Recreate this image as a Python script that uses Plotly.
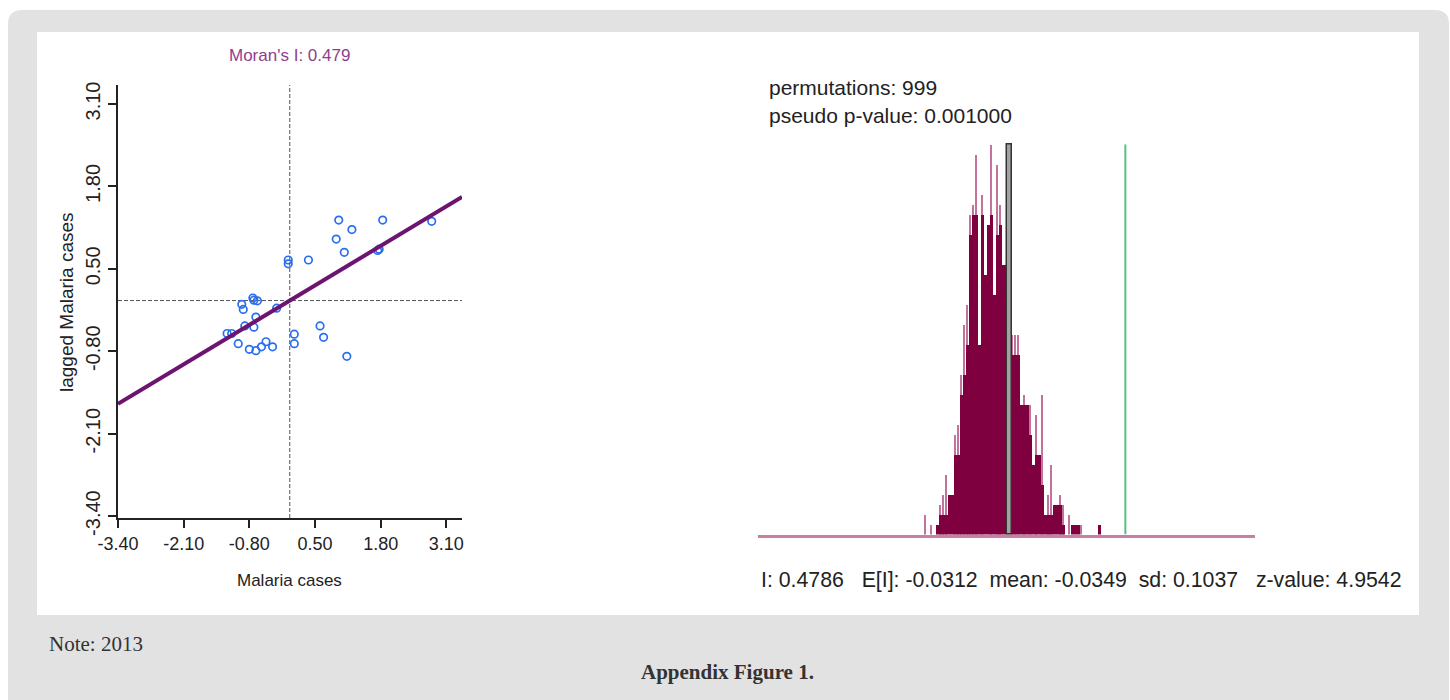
import plotly.graph_objects as go

W, H = 1450, 700

# ---------------- Moran scatter data (standardized) ----------------
malaria_z = [0.97, 1.84, 2.81, 1.23, 0.92, 1.08, 1.74, 1.77, -0.03, -0.03, 0.37,
             -0.95, -0.92, -0.73, -0.64, -0.71, -0.26, -0.67, -0.89, -0.71,
             -1.24, -1.15, -1.02, -0.80, -0.67, -0.56, -0.47, -0.34,
             0.09, 0.09, 0.60, 0.67, 1.13]
lagged_z = [1.27, 1.27, 1.25, 1.12, 0.97, 0.76, 0.79, 0.81, 0.64, 0.58, 0.64,
            -0.06, -0.14, 0.04, -0.005, 0.006, -0.12, -0.26, -0.40, -0.42,
            -0.52, -0.52, -0.68, -0.77, -0.79, -0.73, -0.65, -0.73,
            -0.53, -0.68, -0.40, -0.58, -0.88]
moran_i = 0.479
axis_ticks = [-3.40, -2.10, -0.80, 0.50, 1.80, 3.10]
x_range = [-3.40, 3.41]
y_range = [-3.43, 3.40]

# ---------------- permutation test ----------------
permutations = 999
pseudo_p = 0.001000
obs_I = 0.4786
expected_I = -0.0312
perm_mean = -0.0349
perm_sd = 0.1037
z_value = 4.9542
hist_start = -0.4076
hist_bin_width = 0.0132
hist_counts = [0, 0, 0, 0, 1, 2, 2, 2, 4, 4,
               8, 8, 14, 16, 19, 30, 32, 32, 19, 32,
               26, 31, 32, 24, 30, 31, 27, 27, 25, 18,
               18, 18, 13, 13, 13, 10, 7, 8, 8, 5,
               2, 2, 2, 3, 3, 3, 1, 0, 0, 1,
               1, 1, 0, 0, 0, 0, 0, 0, 1, 0]
hist_spikes = [2, 0, 1, 0, 0, 3, 4, 6, 0, 0,
               10, 11, 16, 21, 23, 32, 33, 38, 0, 34,
               0, 0, 39, 0, 37, 33, 0, 0, 0, 20,
               20, 20, 0, 14, 0, 13, 0, 12, 0, 14,
               0, 4, 7, 0, 0, 4, 3, 0, 2, 0,
               0, 0, 1, 0, 0, 0, 0, 0, 0, 0]
hist_x_range = [-1.1382, 1.0493]


def px_x(p):
    return p / W


def px_y(p):
    return 1 - p / H


SANS = "Liberation Sans, Arial, sans-serif"
SERIF = "Liberation Serif, Times New Roman, serif"
INK = "#222222"

centres = [hist_start + (i + 0.5) * hist_bin_width for i in range(len(hist_counts))]
hmax = max(max(hist_counts), max(hist_spikes))

fig = go.Figure()

# scatter points
fig.add_trace(go.Scatter(
    x=malaria_z, y=lagged_z, mode="markers",
    marker=dict(symbol="circle-open", size=7.5, color="#2a6ef0", line=dict(width=1.7)),
    xaxis="x", yaxis="y", showlegend=False, hoverinfo="skip"))

# regression line (slope = Moran's I)
fig.add_trace(go.Scatter(
    x=x_range, y=[moran_i * v for v in x_range], mode="lines",
    line=dict(color="#6c1470", width=4), xaxis="x", yaxis="y",
    showlegend=False, hoverinfo="skip"))

# histogram: light spikes
sp_x = [c for c, s in zip(centres, hist_spikes) if s > 0]
sp_y = [s for s in hist_spikes if s > 0]
fig.add_trace(go.Bar(
    x=sp_x, y=sp_y, width=0.0055, marker=dict(color="#c3739b", line=dict(width=0)),
    xaxis="x2", yaxis="y2", showlegend=False, hoverinfo="skip"))

# histogram: main bins
fig.add_trace(go.Bar(
    x=centres, y=hist_counts, width=hist_bin_width,
    marker=dict(color="#7e003e", line=dict(width=0)),
    xaxis="x2", yaxis="y2", showlegend=False, hoverinfo="skip"))

# expected I bar
fig.add_trace(go.Bar(
    x=[expected_I], y=[hmax], width=0.0245,
    marker=dict(color="#a3a3a3", line=dict(color="#333333", width=1.5)),
    xaxis="x2", yaxis="y2", showlegend=False, hoverinfo="skip"))

# observed I line
fig.add_trace(go.Scatter(
    x=[obs_I, obs_I], y=[0, hmax], mode="lines",
    line=dict(color="#55c083", width=2), xaxis="x2", yaxis="y2",
    showlegend=False, hoverinfo="skip"))

shapes = []
# grey card with rounded top corners
x0, x1 = px_x(8), px_x(1449)
yt, yb = px_y(10), 0
rx, ry = 14 / W, 14 / H
shapes.append(dict(
    type="path", xref="paper", yref="paper", layer="below",
    path=(f"M {x0},{yb} L {x0},{yt - ry} Q {x0},{yt} {x0 + rx},{yt} "
          f"L {x1 - rx},{yt} Q {x1},{yt} {x1},{yt - ry} L {x1},{yb} Z"),
    fillcolor="#e2e2e2", line=dict(width=0)))
# white panel
shapes.append(dict(
    type="rect", xref="paper", yref="paper", layer="below",
    x0=px_x(37), x1=px_x(1419), y0=px_y(615), y1=px_y(32),
    fillcolor="white", line=dict(width=0)))
# dashed mean lines
shapes.append(dict(type="line", xref="x", yref="y domain", x0=0, x1=0, y0=0, y1=1,
                   line=dict(color="#555555", width=1, dash="4px,2px"), layer="below"))
shapes.append(dict(type="line", xref="x domain", yref="y", x0=0, x1=1, y0=0, y1=0,
                   line=dict(color="#555555", width=1, dash="4px,2px"), layer="below"))

tick_text = ["%.2f" % v for v in axis_ticks]


def ann(text, x, y, size, color=INK, family=SANS, xanchor="center", angle=0):
    return dict(text=text, x=px_x(x), y=px_y(y), xref="paper", yref="paper",
                xanchor=xanchor, yanchor="middle", showarrow=False, textangle=angle,
                font=dict(family=family, size=size, color=color))


NB = "\u00a0"
stats_text = (("I: %.4f" % obs_I) + NB * 3 + ("E[I]: %.4f" % expected_I) + NB * 2
              + ("mean: %.4f" % perm_mean) + NB * 2 + ("sd: %.4f" % perm_sd) + NB * 3
              + ("z-value: %.4f" % z_value))

annotations = [
    ann("Moran's I: %.3f" % moran_i, 289.5, 56, 17, color="#8e3e8e"),
    ann("Malaria cases", 289, 580, 17),
    ann("lagged Malaria cases", 66, 302, 19, angle=-90),
    ann("permutations: %d" % permutations, 767, 87, 21, xanchor="left"),
    ann("pseudo p-value: %.6f" % pseudo_p, 767, 116, 21, xanchor="left"),
    ann(stats_text, 759, 580, 21.3, xanchor="left"),
    ann("Note: 2013", 47, 644, 21, color="#333333", family=SERIF, xanchor="left"),
    ann("<b>Appendix Figure 1.</b>", 727, 672, 21, color="#333333", family=SERIF),
]

fig.update_layout(
    width=W, height=H, autosize=False, margin=dict(l=0, r=0, t=0, b=0, pad=0, autoexpand=False),
    paper_bgcolor="white", plot_bgcolor="rgba(0,0,0,0)",
    barmode="overlay", bargap=0, showlegend=False,
    shapes=shapes, annotations=annotations,
    xaxis=dict(domain=[px_x(118), px_x(462)], range=x_range, tickvals=axis_ticks,
               ticktext=tick_text, ticks="outside", ticklen=8, tickwidth=1.5, tickcolor=INK,
               showline=True, linecolor=INK, linewidth=2, showgrid=False, zeroline=False,
               automargin=False,
               tickfont=dict(family=SANS, size=18, color=INK), anchor="y"),
    yaxis=dict(domain=[px_y(518), px_y(85)], range=y_range, tickvals=axis_ticks,
               ticktext=tick_text, ticks="outside", ticklen=8, tickwidth=1.5, tickcolor=INK,
               showline=True, linecolor=INK, linewidth=2, showgrid=False, zeroline=False,
               automargin=False,
               tickangle=-90, tickfont=dict(family=SANS, size=20, color=INK), anchor="x"),
    xaxis2=dict(domain=[px_x(758), px_x(1255)], range=hist_x_range, showticklabels=False,
                ticks="", showline=True, linecolor="#c97fa4", linewidth=3, showgrid=False,
                zeroline=False, automargin=False, anchor="y2"),
    yaxis2=dict(domain=[px_y(534.5), px_y(134.5)], range=[0, 40], showticklabels=False,
                ticks="", showline=False, showgrid=False, zeroline=False, automargin=False,
                anchor="x2"),
)

fig.write_html(
    "out.html",
    config={"responsive": False, "displayModeBar": False},
    post_script="document.body.style.margin='0';document.body.style.padding='0';"
                "document.body.style.overflow='hidden';",
)
